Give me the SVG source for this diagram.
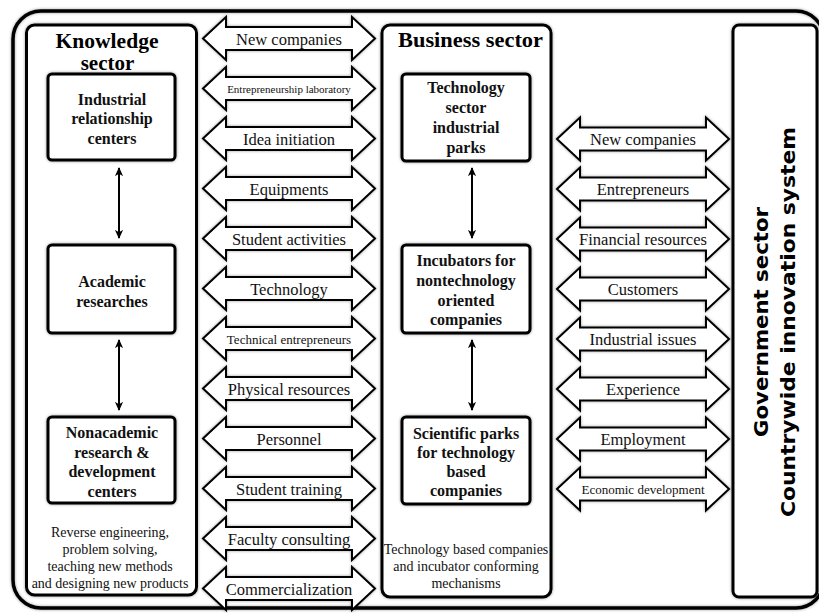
<svg xmlns="http://www.w3.org/2000/svg" xmlns:xlink="http://www.w3.org/1999/xlink" width="819" height="613" viewBox="0 0 819 613">
<defs>
<style>
.box{fill:#fff;stroke:#000;stroke-width:3;filter:url(#halo)}
.flow{fill:#fff;stroke:#000;stroke-width:2;stroke-linejoin:miter;filter:url(#halo)}
.lbl{font-family:"Liberation Serif","Times New Roman",serif;font-size:16.5px;text-anchor:middle;fill:#111}
.sm{font-size:13px}
.xs{font-size:11px}
.nd{font-family:"Liberation Serif","Times New Roman",serif;font-size:16px;font-weight:bold;text-anchor:middle;fill:#111}
.ttl{font-family:"Liberation Serif","Times New Roman",serif;font-size:21px;font-weight:bold;text-anchor:middle;fill:#000}
.note{font-family:"Liberation Serif","Times New Roman",serif;font-size:14px;text-anchor:middle;fill:#111}
.gov{font-family:"DejaVu Sans",sans-serif;font-size:20px;font-weight:bold;text-anchor:middle;fill:#000}
.vline{stroke:#000;stroke-width:2;fill:none;marker-start:url(#ah);marker-end:url(#ah)}
</style>
<filter id="halo" x="-10%" y="-10%" width="120%" height="120%">
<feGaussianBlur in="SourceAlpha" stdDeviation="1.6" result="b"/>
<feComponentTransfer in="b" result="c"><feFuncA type="linear" slope="0.4"/></feComponentTransfer>
<feMerge><feMergeNode in="c"/><feMergeNode in="SourceGraphic"/></feMerge>
</filter>
<marker id="ah" viewBox="0 0 10 10" refX="9" refY="5" markerWidth="9" markerHeight="9" markerUnits="userSpaceOnUse" orient="auto-start-reverse">
<path d="M0,0.5 L10,5 L0,9.5 L2.5,5 Z" fill="#000"/>
</marker>
<path id="flowshape" d="M0,0 L23,-21.5 L23,-11.5 L149,-11.5 L149,-21.5 L172,0 L149,21.5 L149,11.5 L23,11.5 L23,21.5 Z"/>
</defs>
<rect width="819" height="613" fill="#fff"/>
<g id="frame">
<rect x="13" y="11" width="811" height="597" rx="28" fill="none" stroke="#000" stroke-width="3.5" filter="url(#halo)"/>
</g>
<g id="knowledge-sector">
<rect class="box" x="26.5" y="25" width="170" height="570" rx="8"/>
<text class="ttl" x="107" y="48" textLength="103" lengthAdjust="spacingAndGlyphs">Knowledge</text>
<text class="ttl" x="107.5" y="70">sector</text>
<text class="note" x="110" y="537">Reverse engineering,</text>
<text class="note" x="110" y="554">problem solving,</text>
<text class="note" x="110" y="571">teaching new methods</text>
<text class="note" x="110" y="588">and designing new products</text>
</g>
<g id="industrial-relationship-centers">
<rect class="box" x="48" y="74" width="127" height="86" rx="4"/>
<text class="nd" x="112" y="105">Industrial</text>
<text class="nd" x="112" y="124">relationship</text>
<text class="nd" x="112" y="144">centers</text>
</g>
<g id="academic-researches">
<rect class="box" x="48" y="245" width="127" height="88" rx="4"/>
<text class="nd" x="112" y="287">Academic</text>
<text class="nd" x="112" y="307">researches</text>
</g>
<g id="nonacademic-rd-centers">
<rect class="box" x="48" y="417" width="127" height="86" rx="4"/>
<text class="nd" x="112" y="438">Nonacademic</text>
<text class="nd" x="112" y="458">research &amp;</text>
<text class="nd" x="112" y="477">development</text>
<text class="nd" x="112" y="497">centers</text>
</g>
<g id="business-sector">
<rect class="box" x="382" y="25" width="169" height="572" rx="8"/>
<text class="ttl" x="470.5" y="47" textLength="145" lengthAdjust="spacingAndGlyphs">Business sector</text>
<text class="note" x="466" y="554">Technology based companies</text>
<text class="note" x="466" y="571">and incubator conforming</text>
<text class="note" x="466" y="588">mechanisms</text>
</g>
<g id="technology-sector-industrial-parks">
<rect class="box" x="402" y="74" width="128" height="87" rx="4"/>
<text class="nd" x="466" y="93">Technology</text>
<text class="nd" x="466" y="113">sector</text>
<text class="nd" x="466" y="133">industrial</text>
<text class="nd" x="466" y="153">parks</text>
</g>
<g id="incubators">
<rect class="box" x="402" y="245" width="128" height="88" rx="4"/>
<text class="nd" x="466" y="266">Incubators for</text>
<text class="nd" x="466" y="286">nontechnology</text>
<text class="nd" x="466" y="306">oriented</text>
<text class="nd" x="466" y="325">companies</text>
</g>
<g id="scientific-parks">
<rect class="box" x="402" y="417" width="128" height="87" rx="4"/>
<text class="nd" x="466" y="439">Scientific parks</text>
<text class="nd" x="466" y="458">for technology</text>
<text class="nd" x="466" y="477">based</text>
<text class="nd" x="466" y="496">companies</text>
</g>
<g id="government-sector">
<rect class="box" x="733" y="25" width="84" height="572" rx="6"/>
<text class="gov" transform="translate(768,322) rotate(-90)" textLength="230" lengthAdjust="spacingAndGlyphs">Government sector</text>
<text class="gov" transform="translate(795,322) rotate(-90)" textLength="390" lengthAdjust="spacingAndGlyphs">Countrywide innovation system</text>
</g>
<g id="connectors">
<line class="vline" x1="119" y1="168" x2="119" y2="238"/>
<line class="vline" x1="119" y1="340" x2="119" y2="410"/>
<line class="vline" x1="472" y1="168" x2="472" y2="238"/>
<line class="vline" x1="472" y1="340" x2="472" y2="410"/>
<g id="knowledge-business-flows">
<use xlink:href="#flowshape" class="flow" transform="translate(203,38.5)"/>
<use xlink:href="#flowshape" class="flow" transform="translate(203,88.5)"/>
<use xlink:href="#flowshape" class="flow" transform="translate(203,138.5)"/>
<use xlink:href="#flowshape" class="flow" transform="translate(203,188.5)"/>
<use xlink:href="#flowshape" class="flow" transform="translate(203,238.5)"/>
<use xlink:href="#flowshape" class="flow" transform="translate(203,288.5)"/>
<use xlink:href="#flowshape" class="flow" transform="translate(203,338.5)"/>
<use xlink:href="#flowshape" class="flow" transform="translate(203,388.5)"/>
<use xlink:href="#flowshape" class="flow" transform="translate(203,438.5)"/>
<use xlink:href="#flowshape" class="flow" transform="translate(203,488.5)"/>
<use xlink:href="#flowshape" class="flow" transform="translate(203,538.5)"/>
<use xlink:href="#flowshape" class="flow" transform="translate(203,588.5)"/>
<text class="lbl" x="289" y="44.5">New companies</text>
<text class="lbl xs" x="289" y="92.5">Entrepreneurship laboratory</text>
<text class="lbl" x="289" y="144.5">Idea initiation</text>
<text class="lbl" x="289" y="194.5">Equipments</text>
<text class="lbl" x="289" y="244.5">Student activities</text>
<text class="lbl" x="289" y="294.5">Technology</text>
<text class="lbl sm" x="289" y="343.5">Technical entrepreneurs</text>
<text class="lbl" x="289" y="394.5">Physical resources</text>
<text class="lbl" x="289" y="444.5">Personnel</text>
<text class="lbl" x="289" y="494.5">Student training</text>
<text class="lbl" x="289" y="544.5">Faculty consulting</text>
<text class="lbl" x="289" y="594.5">Commercialization</text>
</g>
<g id="business-government-flows">
<use xlink:href="#flowshape" class="flow" transform="translate(557,139)"/>
<use xlink:href="#flowshape" class="flow" transform="translate(557,189)"/>
<use xlink:href="#flowshape" class="flow" transform="translate(557,239)"/>
<use xlink:href="#flowshape" class="flow" transform="translate(557,289)"/>
<use xlink:href="#flowshape" class="flow" transform="translate(557,339)"/>
<use xlink:href="#flowshape" class="flow" transform="translate(557,389)"/>
<use xlink:href="#flowshape" class="flow" transform="translate(557,439)"/>
<use xlink:href="#flowshape" class="flow" transform="translate(557,489)"/>
<text class="lbl" x="643" y="145">New companies</text>
<text class="lbl" x="643" y="195">Entrepreneurs</text>
<text class="lbl" x="643" y="245">Financial resources</text>
<text class="lbl" x="643" y="295">Customers</text>
<text class="lbl" x="643" y="345">Industrial issues</text>
<text class="lbl" x="643" y="395">Experience</text>
<text class="lbl" x="643" y="445">Employment</text>
<text class="lbl sm" x="643" y="494">Economic development</text>
</g>
</g>
</svg>
